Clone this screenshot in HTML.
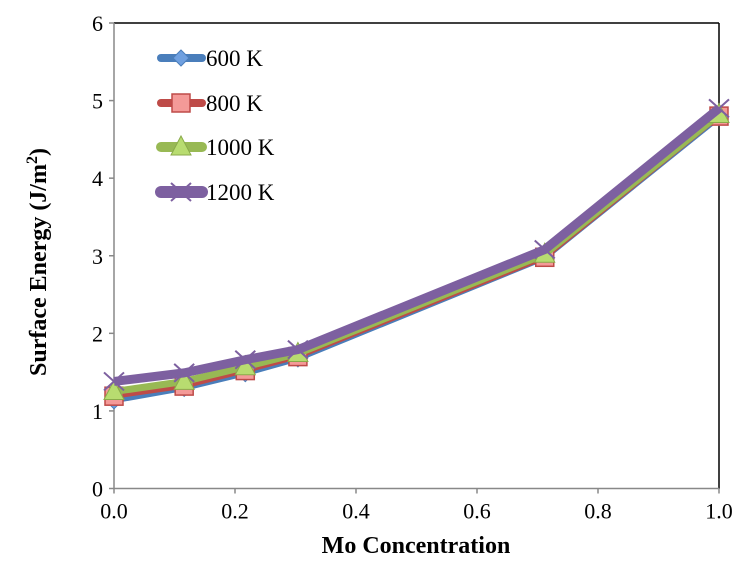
<!DOCTYPE html>
<html><head><meta charset="utf-8"><style>
body{margin:0;background:#fff;}
svg{display:block;font-family:"Liberation Serif",serif;}
</style></head><body>
<svg id="chart" width="756" height="583"></svg>
<script>
const xVals=[0,0.116,0.217,0.304,0.712,1.0];
const s600=[1.13,1.29,1.48,1.67,2.97,4.78];
const s800=[1.19,1.32,1.52,1.70,2.98,4.80];
const s1000=[1.25,1.38,1.57,1.74,3.02,4.82];
const s1200=[1.38,1.49,1.66,1.79,3.08,4.90];
const seriesNames=["600 K","800 K","1000 K","1200 K"];
const xTicks=["0.0","0.2","0.4","0.6","0.8","1.0"];
const yTicks=["0","1","2","3","4","5","6"];
const NS="http://www.w3.org/2000/svg";
const svg=document.getElementById('chart');
const X0=114,X1=719,Y0=488.5,Y1=23;
const sx=v=>X0+v*(X1-X0);
const sy=v=>Y0-v/6*(Y0-Y1);
function mk(t,a,p){const e=document.createElementNS(NS,t);for(const k in a)e.setAttribute(k,a[k]);(p||svg).appendChild(e);return e;}
let e=mk('line',{x1:X0,y1:Y1,x2:X1,y2:Y1,stroke:'#000','stroke-width':1.5});


e=mk('line',{x1:X1,y1:Y1,x2:X1,y2:Y0,stroke:'#000','stroke-width':1.5});


e=mk('line',{x1:X0,y1:Y1,x2:X0,y2:Y0,stroke:'#888','stroke-width':1.5});


e=mk('line',{x1:X0,y1:Y0,x2:X1,y2:Y0,stroke:'#888','stroke-width':1.5});


yTicks.forEach((t,i)=>{const v=parseFloat(t);
 let l=mk('line',{x1:X0-5,y1:sy(v),x2:X0,y2:sy(v),stroke:'#888','stroke-width':1.5});
 
 
 let tx=mk('text',{x:X0-11,y:sy(v)+8,'text-anchor':'end','font-size':22});tx.textContent=t;
 
 
});
xTicks.forEach((t,i)=>{const v=parseFloat(t);
 let l=mk('line',{x1:sx(v),y1:Y0,x2:sx(v),y2:Y0+5,stroke:'#888','stroke-width':1.5});
 
 
 let tx=mk('text',{x:sx(v),y:Y0+30,'text-anchor':'middle','font-size':22});tx.textContent=t;
 
 
});
let xt=mk('text',{x:416,y:553,'text-anchor':'middle','font-size':24,'font-weight':'bold'});xt.textContent='Mo Concentration';


let yt=mk('text',{x:0,y:0,'text-anchor':'middle','font-size':24,'font-weight':'bold',transform:'translate(46,262) rotate(-90)'});
yt.innerHTML='Surface Energy (J/m<tspan dy="-9" font-size="16">2</tspan><tspan dy="9">)</tspan>';


const styles=[
 {c:'#4a7ebb',w:5,m:'diamond',f:'#6fa0e0'},
 {c:'#be4b48',w:5,m:'square',f:'#f49a98'},
 {c:'#98b954',w:7,m:'triangle',f:'#b8dc70'},
 {c:'#7d60a0',w:9,m:'x',f:'none'}];
const data=[s600,s800,s1000,s1200];
function marker(g,type,x,y,st){
 if(type==='diamond')return mk('path',{d:`M${x} ${y-8}L${x+8} ${y}L${x} ${y+8}L${x-8} ${y}Z`,fill:st.f,stroke:st.c,'stroke-width':1},g);
 if(type==='square')return mk('rect',{x:x-9,y:y-9,width:18,height:18,fill:st.f,stroke:st.c,'stroke-width':1.5},g);
 if(type==='triangle')return mk('path',{d:`M${x} ${y-11}L${x+10} ${y+8}L${x-10} ${y+8}Z`,fill:st.f,stroke:'#8aaa4a','stroke-width':1},g);
 return mk('path',{d:`M${x-10} ${y-9}L${x+10} ${y+9}M${x-10} ${y+9}L${x+10} ${y-9}`,stroke:st.c,'stroke-width':2,fill:'none'},g);
}
data.forEach((arr,si)=>{const st=styles[si];
 const g=mk('g',{});
 
 
 const pts=arr.map((v,i)=>sx(xVals[i])+','+sy(v)).join(' ');
 let pl=mk('polyline',{points:pts,fill:'none',stroke:st.c,'stroke-width':st.w,'stroke-linejoin':'round'},g);
 
 
 arr.forEach((v,i)=>{let m=marker(g,st.m,sx(xVals[i]),sy(v),st);
  
  });
 const ly=[58,103,147,192][si];
 const lg=mk('g',{});
 
 
 mk('line',{x1:161,y1:ly,x2:202,y2:ly,stroke:st.c,'stroke-width':st.w+3,'stroke-linecap':'round'},lg);
 marker(lg,st.m,181,ly,st);
 let t=mk('text',{x:206,y:ly+8,'font-size':23},lg);t.textContent=seriesNames[si];
});
</script>
</body></html>
